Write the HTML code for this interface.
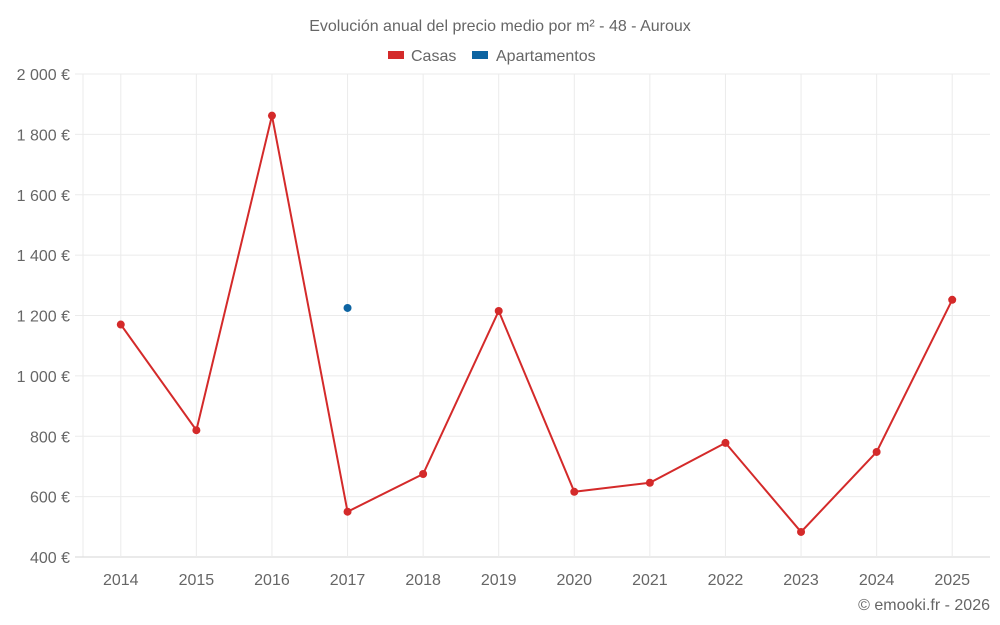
<!DOCTYPE html>
<html><head><meta charset="utf-8">
<style>
html,body{margin:0;padding:0;background:#fff;width:1000px;height:625px;overflow:hidden;font-family:"Liberation Sans",sans-serif;}
svg text{font-family:"Liberation Sans",sans-serif;fill:#666;}
</style></head>
<body>
<svg id="chart" width="1000" height="625">
<text x="500" y="31" text-anchor="middle" font-size="16">Evolución anual del precio medio por m² - 48 - Auroux</text>
<g>
<g><rect x="388" y="51" width="16" height="8" fill="#d42a2a"/><text x="411" y="61" font-size="16">Casas</text></g>
<g><rect x="472" y="51" width="16" height="8" fill="#0d64a2"/><text x="496" y="61" font-size="16">Apartamentos</text></g>
</g>
<g id="grid"></g><g id="axes"></g><g id="marks"></g>
<text x="990" y="610" text-anchor="end" font-size="16">© emooki.fr - 2026</text>
</svg>
<script>
const categories=["2014","2015","2016","2017","2018","2019","2020","2021","2022","2023","2024","2025"];
const casas=[1170,820,1862,550,675,1215,616,646,778,483,748,1252];
const apartamentos=[null,null,null,1225,null,null,null,null,null,null,null,null];
const yTicks=[400,600,800,1000,1200,1400,1600,1800,2000];
const yTickLabels=["400 €","600 €","800 €","1 000 €","1 200 €","1 400 €","1 600 €","1 800 €","2 000 €"];
const NS="http://www.w3.org/2000/svg";
const L=83,R=990,T=74,B=557,yMin=400,yMax=2000;
const step=(R-L)/categories.length;
function xS(i){return L+step*(i+0.5);}
function yS(v){return B-(v-yMin)/(yMax-yMin)*(B-T);}
function mk(tag,attrs,parent){const e=document.createElementNS(NS,tag);for(const k in attrs)e.setAttribute(k,attrs[k]);parent.appendChild(e);return e;}
const grid=document.getElementById('grid'),axes=document.getElementById('axes'),marks=document.getElementById('marks');
const edge=mk('line',{x1:L,x2:L,y1:T,y2:B,stroke:'#ebebeb','stroke-width':1},grid);


yTicks.forEach((v,i)=>{
 const ln=mk('line',{x1:75,x2:R,y1:yS(v),y2:yS(v),stroke:i===0?'#d6d6d6':'#ebebeb','stroke-width':1},grid);
 
 
 const t=mk('text',{x:70,y:yS(v)+6,'text-anchor':'end','font-size':16},axes);
 t.textContent=yTickLabels[i];
 
 
});
categories.forEach((c,i)=>{
 const ln=mk('line',{x1:xS(i),x2:xS(i),y1:T,y2:B,stroke:'#ebebeb','stroke-width':1},grid);
 
 
 const t=mk('text',{x:xS(i),y:585,'text-anchor':'middle','font-size':16},axes);
 t.textContent=c;
 
 
});
const pts=casas.map((v,i)=>v==null?null:[xS(i),yS(v)]).filter(p=>p);
const line=mk('polyline',{points:pts.map(p=>p.join(',')).join(' '),fill:'none',stroke:'#d42a2a','stroke-width':2},marks);


casas.forEach((v,i)=>{if(v==null)return;
 const c=mk('circle',{cx:xS(i),cy:yS(v),r:4,fill:'#d42a2a'},marks);
 
 
});
apartamentos.forEach((v,i)=>{if(v==null)return;
 const c=mk('circle',{cx:xS(i),cy:yS(v),r:4,fill:'#0d64a2'},marks);
 
 
});
</script>
</body></html>
